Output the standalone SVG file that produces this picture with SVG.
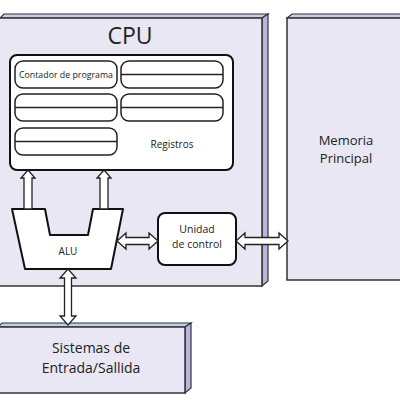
<svg xmlns="http://www.w3.org/2000/svg" width="400" height="400" viewBox="0 0 400 400">
<style>
.face{fill:#e8e7f3;stroke:#333;stroke-width:1.5}
.side{fill:#b9b5dd;stroke:#333;stroke-width:1.2}
.top{fill:#cfcdea;stroke:#333;stroke-width:1.2}
.box{fill:#fff;stroke:#111;stroke-width:2}
.reg{fill:#fff;stroke:#222;stroke-width:1.5}
.arr{fill:#fff;stroke:#222;stroke-width:1.3;stroke-linejoin:miter}
text{font-family:"Open Sans","DejaVu Sans",sans-serif;fill:#222;text-anchor:middle}
</style>
<rect width="400" height="400" fill="#fff"/>
<g id="cpu">
  <polygon class="top" points="0,18 4,14 268,14 262,18"/>
  <polygon class="side" points="262,18 268,14 268,281 262,286"/>
  <rect class="face" x="-2" y="18" width="264" height="268"/>
  <text x="130" y="44" font-size="23">CPU</text>
</g>
<g id="registros">
  <rect class="box" x="10" y="55" width="223" height="115" rx="7"/>
  <rect class="reg" x="15" y="61" width="102" height="27" rx="8"/>
  <text x="66" y="77.5" font-size="8.2" textLength="94" lengthAdjust="spacingAndGlyphs">Contador de programa</text>
  <rect class="reg" x="121" y="61" width="102" height="27" rx="8"/>
  <line x1="121" y1="74.5" x2="223" y2="74.5" stroke="#222" stroke-width="1.5"/>
  <rect class="reg" x="15" y="94" width="102" height="27" rx="8"/>
  <line x1="15" y1="107.5" x2="117" y2="107.5" stroke="#222" stroke-width="1.5"/>
  <rect class="reg" x="121" y="94" width="102" height="27" rx="8"/>
  <line x1="121" y1="107.5" x2="223" y2="107.5" stroke="#222" stroke-width="1.5"/>
  <rect class="reg" x="15" y="128" width="102" height="27" rx="8"/>
  <line x1="15" y1="141.5" x2="117" y2="141.5" stroke="#222" stroke-width="1.5"/>
  <text x="172" y="148" font-size="10">Registros</text>
</g>
<g id="alu">
  <polygon points="12,209 45,209 50,235 88,235 93,209 123,209 111,269 25,269" fill="#fff" stroke="#111" stroke-width="2" stroke-linejoin="round"/>
  <text x="68" y="255" font-size="10">ALU</text>
</g>
<g id="unidad-control">
  <rect class="box" x="158" y="213" width="78" height="52" rx="7"/>
  <text x="197" y="233" font-size="10.5">Unidad</text>
  <text x="197" y="248" font-size="10.5">de control</text>
</g>
<g id="memoria">
  <polygon class="top" points="287,18 292,14 402,14 402,18"/>
  <rect class="face" x="287" y="18" width="120" height="262"/>
  <text x="346" y="145" font-size="13">Memoria</text>
  <text x="346" y="163" font-size="13">Principal</text>
</g>
<g id="entrada-salida">
  <polygon points="-2,327 2,323 191,323 185,327" fill="#bcd0ea" stroke="#333" stroke-width="1.2"/>
  <polygon class="side" points="185,327 191,323 191,388 185,393"/>
  <rect x="-2" y="327" width="187" height="66" fill="#e8e7f3" stroke="#333" stroke-width="1.5"/>
  <text x="91" y="353" font-size="14">Sistemas de</text>
  <text x="91" y="373" font-size="14">Entrada/Sallida</text>
</g>
<g id="conectores">
  <polygon class="arr" points="28,170 35,178 32,178 32,209 24,209 24,178 21,178"/>
  <polygon class="arr" points="104,170 111,178 108,178 108,209 100,209 100,178 97,178"/>
  <polygon class="arr" points="117,241 126,233 126,237.5 149,237.5 149,233 158,241 149,249 149,244.5 126,244.5 126,249"/>
  <polygon class="arr" points="236,241 245,233 245,237.5 279,237.5 279,233 288,241 279,249 279,244.5 245,244.5 245,249"/>
  <polygon class="arr" points="68,269 76,278 71.5,278 71.5,316 76,316 68,325 60,316 64.5,316 64.5,278 60,278"/>
</g>
</svg>
